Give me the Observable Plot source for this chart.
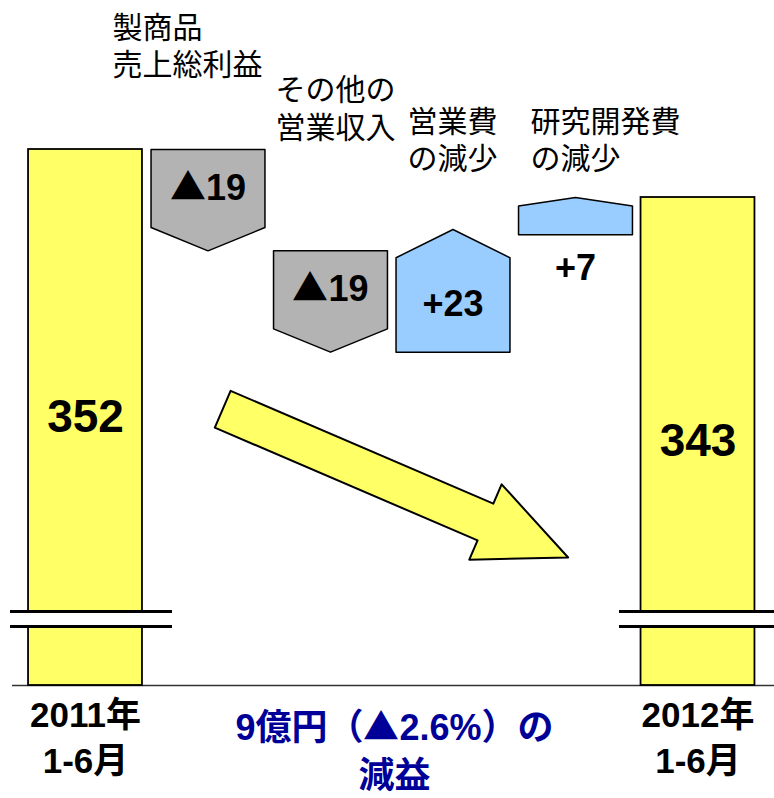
<!DOCTYPE html>
<html>
<head>
<meta charset="utf-8">
<script src="https://cdn.jsdelivr.net/npm/d3@7"></script>
<script src="https://cdn.jsdelivr.net/npm/@observablehq/plot@0.6"></script>
<style>
  @font-face {
    font-family: "TriMark";
    src: local("Noto Sans CJK JP Bold"), local("NotoSansCJKjp-Bold"), local("Noto Sans CJK JP"), local("NotoSansCJKjp-Regular");
    unicode-range: U+25B2;
    font-weight: bold;
  }
  html, body { margin: 0; padding: 0; background: #fff; }
  #chart svg { display: block; }
</style>
</head>
<body>
<div id="chart"></div>
<script>
// ---------- data ----------
const categories = ["2011年\n1-6月", "製商品\n売上総利益", "その他の\n営業収入", "営業費\nの減少", "研究開発費\nの減少", "2012年\n1-6月"];
const startValue = 352;
const endValue = 343;
const deltas = [-19, -19, 23, 7];
const deltaLabels = ["▲19", "▲19", "+23", "+7"];
const totalLabels = ["352", "343"];
const summaryLines = ["9億円（▲2.6%）の", "減益"];

// ---------- layout ----------
const W = 774, H = 798;
const xDomain = [-0.5, 5.5], xRange = [23.75, 758.75];
const yDomain = [251.5, 379.94], yRange = [685, 0];
const xs = d3.scaleLinear(xDomain, xRange);
const ys = d3.scaleLinear(yDomain, yRange);
const X = px => xs.invert(px), Y = px => ys.invert(px);
const HW = 0.465;   // half bar width (in category steps)
const TIP = 0.23;   // arrow-tip depth as share of the step

const FONT_LATIN = "TriMark, 'Liberation Sans', Arial, 'Noto Sans CJK JP', sans-serif";
const FONT_LABEL = "'Liberation Sans', 'Noto Sans CJK JP', sans-serif";

// totals
const totals = [
  {x: 0, v: startValue, label: totalLabels[0]},
  {x: 5, v: endValue, label: totalLabels[1]}
];

// waterfall steps
let cum = startValue;
const steps = deltas.map((d, i) => { const s = cum; cum += d; return {i, d, s, e: cum, label: deltaLabels[i]}; });
const residual = endValue - cum;            // rounding residue: last step lands on the end total
steps[steps.length - 1].s += residual;
steps[steps.length - 1].e += residual;

const shapePts = steps.flatMap(st => {
  const x = st.i + 1, sh = st.e - TIP * st.d;
  return [[x - HW, st.s], [x + HW, st.s], [x + HW, sh], [x, st.e], [x - HW, sh]]
    .map(([px, py]) => ({id: st.i, x: px, y: py, up: st.d > 0}));
});

// labels inside / below the step shapes
const stepText = steps.map(st => {
  const sh = st.e - TIP * st.d;
  const inside = Math.abs(ys(st.s) - ys(sh)) > 50;
  return {x: st.i + 1, y: inside ? (st.s + sh) / 2 : Y(ys(st.s) + 34), label: st.label};
});

// category labels on top (left aligned, two lines, block centre)
const topLabelPos = [[112, 44], [275, 106.5], [407, 138], [530, 138]];
const topText = categories.slice(1, 5).map((c, i) => ({
  x: X(topLabelPos[i][0]), y: Y(topLabelPos[i][1]), t: c
}));

// bottom category labels
const bottomText = [0, 5].map(i => ({x: i, y: Y(735), t: categories[i]}));

// summary text
const summaryText = [{x: X(394), y: Y(748), t: summaryLines.join("\n")}];

// broken axis
const breakTop = Y(611), breakBot = Y(626);
const breakSpans = [{x1: X(10), x2: X(172)}, {x1: X(619), x2: X(774)}];
const breakLines = breakSpans.flatMap(s => [{...s, y: breakTop}, {...s, y: breakBot}]);

// trend arrow
const arrowTail = {x: 1.12, v: 303.3}, arrowTip = {x: 3.94, v: 275.5};
const shaftW = 40, headW = 82, headL = 90;
const arrowPoly = (() => {
  const t = [xs(arrowTail.x), ys(arrowTail.v)], p = [xs(arrowTip.x), ys(arrowTip.v)];
  const dx = p[0] - t[0], dy = p[1] - t[1], L = Math.hypot(dx, dy);
  const ux = dx / L, uy = dy / L, nx = -uy, ny = ux;
  const b = [p[0] - ux * headL, p[1] - uy * headL];
  return [
    [t[0] + nx * shaftW / 2, t[1] + ny * shaftW / 2],
    [b[0] + nx * shaftW / 2, b[1] + ny * shaftW / 2],
    [b[0] + nx * headW / 2, b[1] + ny * headW / 2],
    p,
    [b[0] - nx * headW / 2, b[1] - ny * headW / 2],
    [b[0] - nx * shaftW / 2, b[1] - ny * shaftW / 2],
    [t[0] - nx * shaftW / 2, t[1] - ny * shaftW / 2]
  ].map(([a, c]) => ({x: X(a), y: Y(c)}));
})();

const chart = Plot.plot({
  width: W, height: H,
  marginTop: 0, marginBottom: 0, marginLeft: 0, marginRight: 0,
  style: {background: "#fff"},
  x: {domain: xDomain, range: xRange, axis: null},
  y: {domain: yDomain, range: yRange, axis: null},
  marks: [
    Plot.ruleY([yDomain[0]], {x1: X(12), x2: X(774), stroke: "#333", strokeWidth: 1.5}),
    Plot.rect(totals, {x1: d => d.x - HW, x2: d => d.x + HW, y1: () => yDomain[0], y2: "v",
      fill: "#FFFF66", stroke: "#000", strokeWidth: 1.8}),
    Plot.rect(breakSpans, {x1: "x1", x2: "x2", y1: () => breakBot, y2: () => breakTop, fill: "#fff"}),
    Plot.ruleY(breakLines, {x1: "x1", x2: "x2", y: "y", stroke: "#000", strokeWidth: 3}),
    Plot.line(shapePts.filter(d => !d.up), {x: "x", y: "y", z: "id", curve: "linear-closed",
      fill: "#B3B3B3", stroke: "#000", strokeWidth: 1.5}),
    Plot.line(shapePts.filter(d => d.up), {x: "x", y: "y", z: "id", curve: "linear-closed",
      fill: "#99CCFF", stroke: "#000", strokeWidth: 1.5}),
    Plot.line(arrowPoly, {x: "x", y: "y", curve: "linear-closed",
      fill: "#FFFF66", stroke: "#000", strokeWidth: 2}),
    Plot.text(totals, {x: "x", y: d => (d.v + yDomain[0]) / 2, text: "label",
      fontSize: 46, fontWeight: "bold", fontFamily: FONT_LATIN, fill: "#000"}),
    Plot.text(stepText, {x: "x", y: "y", text: "label",
      fontSize: 36, fontWeight: "bold", fontFamily: FONT_LATIN, fill: "#000"}),
    Plot.text(topText, {x: "x", y: "y", text: "t", textAnchor: "start", lineHeight: 1.25,
      fontSize: 30, fontFamily: FONT_LABEL, fill: "#000"}),
    Plot.text(bottomText, {x: "x", y: "y", text: "t", lineHeight: 1.31,
      fontSize: 35, fontWeight: "bold", fontFamily: FONT_LATIN, fill: "#000"}),
    Plot.text(summaryText, {x: "x", y: "y", text: "t", lineHeight: 1.33,
      fontSize: 36, fontWeight: "bold", fontFamily: FONT_LATIN, fill: "#000099"})
  ]
});
document.getElementById("chart").appendChild(chart);
</script>
</body>
</html>
